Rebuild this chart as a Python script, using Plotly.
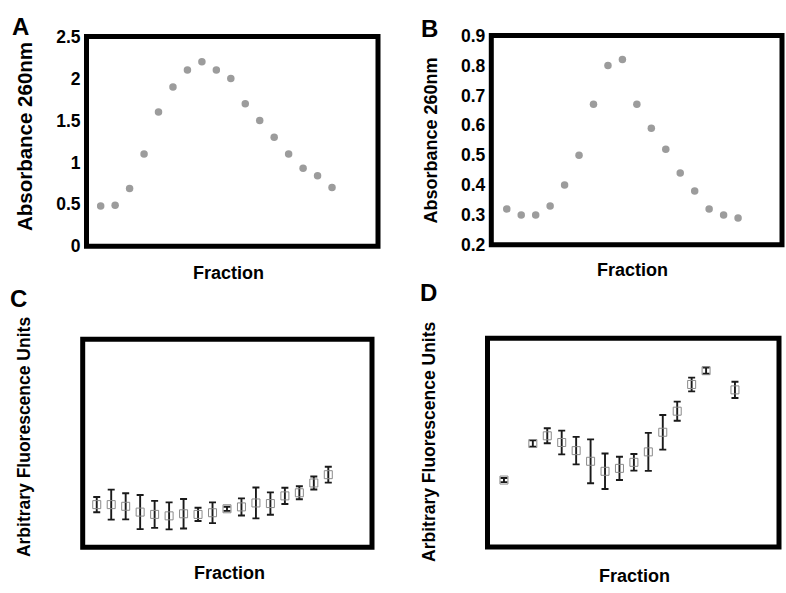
import plotly.graph_objects as go

W, H = 786, 593

# ---------------- data ----------------
fractions_ab = list(range(1, 18))
absorb_a = [0.48, 0.49, 0.69, 1.10, 1.60, 1.90, 2.10, 2.20, 2.10, 2.00,
            1.70, 1.50, 1.30, 1.10, 0.93, 0.84, 0.70]
absorb_b = [0.32, 0.30, 0.30, 0.33, 0.40, 0.50, 0.67, 0.80, 0.82, 0.67,
            0.59, 0.52, 0.44, 0.38, 0.32, 0.30, 0.29]

fractions_c = list(range(1, 18))
fluor_c = [20.5, 20.5, 19.7, 16.9, 15.8, 15.1, 16.1, 15.8, 16.6, 18.5,
           19.4, 21.3, 21.0, 24.7, 26.2, 30.9, 34.9]
err_c = [3.7, 7.2, 6.3, 8.2, 6.5, 6.5, 7.1, 3.2, 5.0, 1.0,
         4.1, 7.4, 5.4, 3.9, 3.1, 3.1, 3.8]

fractions_d = [1, 3, 4, 5, 6, 7, 8, 9, 10, 11, 12, 13, 14, 15, 17]
fluor_d = [32.1, 49.6, 53.3, 50.1, 46.2, 41.1, 36.3, 37.7, 40.6, 45.6,
           55.0, 65.1, 77.9, 84.5, 75.3]
err_d = [1.0, 1.5, 3.6, 5.7, 6.6, 10.5, 8.5, 5.6, 4.0, 9.1,
         8.3, 4.6, 3.3, 1.5, 3.9]

ticks_a = [0, 0.5, 1, 1.5, 2, 2.5]
ticklabels_a = ["0", "0.5", "1", "1.5", "2", "2.5"]
ticks_b = [0.2, 0.3, 0.4, 0.5, 0.6, 0.7, 0.8, 0.9]
ticklabels_b = ["0.2", "0.3", "0.4", "0.5", "0.6", "0.7", "0.8", "0.9"]

FONT = "Liberation Sans, Arial, Helvetica, sans-serif"
GRAY = "#9c9c9c"

def px_dom_x(a, b):
    return [a / W, b / W]

def px_dom_y(top, bottom):
    return [1 - bottom / H, 1 - top / H]

fig = go.Figure()

# Panel A
fig.add_trace(go.Scatter(x=fractions_ab, y=absorb_a, mode="markers",
                         marker=dict(color=GRAY, size=7.5), xaxis="x", yaxis="y",
                         showlegend=False))
# Panel B
fig.add_trace(go.Scatter(x=fractions_ab, y=absorb_b, mode="markers",
                         marker=dict(color=GRAY, size=7.5), xaxis="x2", yaxis="y2",
                         showlegend=False))
# Panel C
fig.add_trace(go.Scatter(x=fractions_c, y=fluor_c, mode="markers",
                         marker=dict(symbol="square-open", color="#8a8a8a", size=8,
                                     line=dict(color="#8a8a8a", width=1)),
                         error_y=dict(type="data", array=err_c, visible=True,
                                      color="#1a1a1a", thickness=1.9, width=3.5),
                         xaxis="x3", yaxis="y3", showlegend=False))
# Panel D
fig.add_trace(go.Scatter(x=fractions_d, y=fluor_d, mode="markers",
                         marker=dict(symbol="square-open", color="#8a8a8a", size=8,
                                     line=dict(color="#8a8a8a", width=1)),
                         error_y=dict(type="data", array=err_d, visible=True,
                                      color="#1a1a1a", thickness=1.9, width=3.5),
                         xaxis="x4", yaxis="y4", showlegend=False))

tickfont = dict(family=FONT, size=17.5, color="black", weight="bold")

def xax(dom, rng, anchor):
    return dict(domain=dom, range=rng, anchor=anchor, showgrid=False,
                zeroline=False, showticklabels=False, ticks="", showline=False)

def yax(dom, rng, anchor, tv=None, tt=None):
    d = dict(domain=dom, range=rng, anchor=anchor, showgrid=False,
             zeroline=False, ticks="", showline=False)
    if tv is None:
        d["showticklabels"] = False
    else:
        d.update(tickmode="array", tickvals=tv, ticktext=tt, tickfont=tickfont,
                 ticklabelstandoff=5)
    return d

fig.update_layout(
    width=W, height=H,
    margin=dict(l=0, r=0, t=0, b=0),
    paper_bgcolor="white", plot_bgcolor="white",
    xaxis=xax(px_dom_x(86.5, 378), [0.02, 20.18], "y"),
    yaxis=yax(px_dom_y(27.5, 244.5), [0, 2.5], "x", ticks_a, ticklabels_a),
    xaxis2=xax(px_dom_x(491.3, 782), [-0.07, 20.04], "y2"),
    yaxis2=yax(px_dom_y(26.5, 243), [0.2, 0.9], "x2", ticks_b, ticklabels_b),
    xaxis3=xax(px_dom_x(82.7, 372), [0.03, 20.02], "y3"),
    yaxis3=yax(px_dom_y(340.8, 556), [0, 100], "x3"),
    xaxis4=xax(px_dom_x(487.5, 779), [-0.14, 20.05], "y4"),
    yaxis4=yax(px_dom_y(339.8, 555.8), [0, 100], "x4"),
)

shapes = []
for xr, yr in [("x domain", "y domain"), ("x2 domain", "y2 domain"),
               ("x3 domain", "y3 domain"), ("x4 domain", "y4 domain")]:
    shapes.append(dict(type="rect", xref=xr, yref=yr, x0=0, x1=1, y0=0, y1=1,
                       line=dict(color="black", width=5), layer="above"))
fig.update_layout(shapes=shapes)

def ann(text, cx, cy, size, angle=0):
    return dict(text=text, x=cx / W, y=1 - cy / H, xref="paper", yref="paper",
                xanchor="center", yanchor="middle", showarrow=False,
                textangle=angle,
                font=dict(family=FONT, size=size, color="black", weight="bold"))

annotations = [
    ann("A", 20, 17, 24), ann("B", 430, 19, 24),
    ann("C", 18, 299, 24), ann("D", 428, 292, 24),
    ann("Absorbance 260nm", 24, 131.5, 20.5, -90),
    ann("Absorbance 260nm", 431, 135, 18, -90),
    ann("Arbitrary Fluorescence Units", 24, 442, 17.5, -90),
    ann("Arbitrary Fluorescence Units", 429, 447, 17.5, -90),
    ann("Fraction", 228, 272.5, 18), ann("Fraction", 632, 269.5, 18),
    ann("Fraction", 229, 582.5, 18), ann("Fraction", 634, 585.5, 18),
]
fig.update_layout(annotations=annotations)

fig.write_html("out.html", config={"displayModeBar": False},
               post_script="document.body.style.margin='0';document.body.style.overflow='hidden';")
